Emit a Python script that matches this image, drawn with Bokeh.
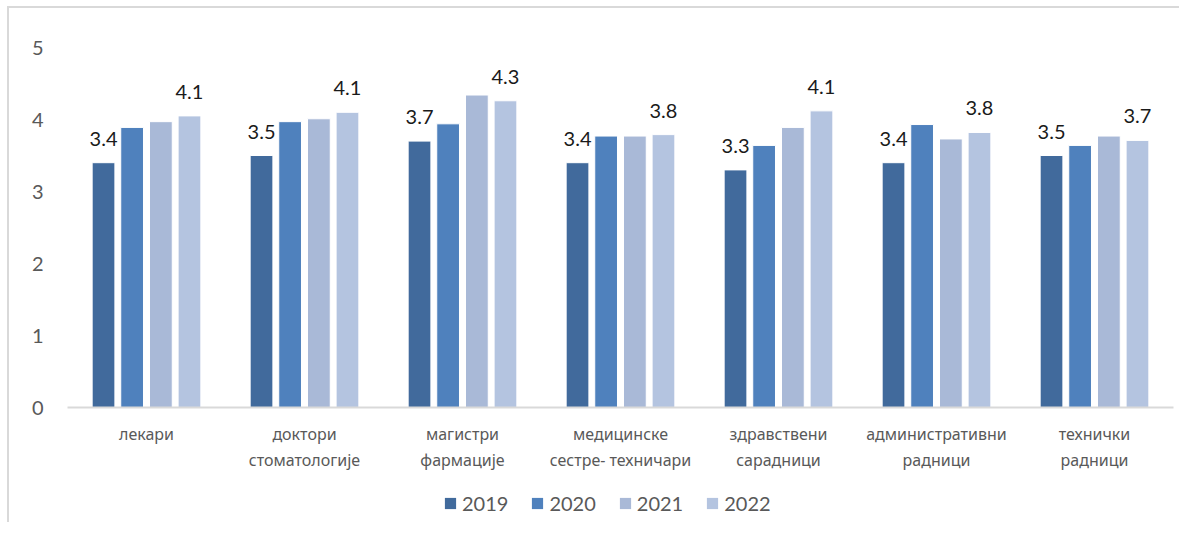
from bokeh.plotting import figure
from bokeh.layouts import column
from bokeh.models import FactorRange, Range1d, ColumnDataSource, Legend, LegendItem, FixedTicker
from bokeh.transform import dodge
from bokeh.core.properties import value
from bokeh.embed import file_html
from bokeh.resources import INLINE

categories = [
    "лекари",
    "доктори\nстоматологије",
    "магистри\nфармације",
    "медицинске\nсестре- техничари",
    "здравствени\nсарадници",
    "административни\nрадници",
    "технички\nрадници",
]
years = ["2019", "2020", "2021", "2022"]
v2019 = [3.40, 3.50, 3.70, 3.40, 3.30, 3.40, 3.50]
v2020 = [3.89, 3.97, 3.94, 3.77, 3.64, 3.93, 3.64]
v2021 = [3.97, 4.01, 4.34, 3.77, 3.89, 3.73, 3.77]
v2022 = [4.05, 4.10, 4.26, 3.79, 4.12, 3.82, 3.71]
labels2019 = ["3.4", "3.5", "3.7", "3.4", "3.3", "3.4", "3.5"]
labels2022 = ["4.1", "4.1", "4.3", "3.8", "4.1", "3.8", "3.7"]
y_ticks = [0, 1, 2, 3, 4, 5]
colors = ["#416A9C", "#4F81BD", "#A9B9D7", "#B4C4E0"]

source = ColumnDataSource(dict(
    cat=categories, v2019=v2019, v2020=v2020, v2021=v2021, v2022=v2022,
    l2019=labels2019, l2022=labels2022,
))

p = figure(
    x_range=FactorRange(*categories), y_range=Range1d(0, 5),
    width=1170, height=474,
    min_border_left=58, min_border_right=6, min_border_top=39, min_border_bottom=75,
    output_backend="svg", toolbar_location=None,
)
p.outline_line_color = None
p.xgrid.grid_line_color = None
p.ygrid.grid_line_color = None
p.background_fill_color = "white"
p.border_fill_color = "white"

offsets = [-0.272, -0.091, 0.091, 0.272]
bw = 0.144
for yr, off, col in zip(years, offsets, colors):
    p.vbar(x=dodge("cat", off, range=p.x_range), top="v" + yr, width=bw,
           source=source, fill_color=col, line_color="white", line_width=1)

for yr, off in (("2019", offsets[0]), ("2022", offsets[3])):
    p.text(x=dodge("cat", off, range=p.x_range), y="v" + yr, text="l" + yr, source=source,
           text_align="center", text_baseline="middle", y_offset=-24,
           text_font=value("Lato"), text_font_size="20px", text_color="#1a1a1a")

# y axis
p.yaxis.ticker = FixedTicker(ticks=y_ticks)
p.yaxis.axis_line_color = None
p.yaxis.major_tick_line_color = None
p.yaxis.minor_tick_line_color = None
p.yaxis.major_tick_out = 0
p.yaxis.major_tick_in = 0
p.yaxis.major_label_standoff = 24
p.yaxis.major_label_text_font = "Lato"
p.yaxis.major_label_text_font_size = "20px"
p.yaxis.major_label_text_color = "#595959"

# x axis
p.xaxis.axis_line_color = "#D9D9D9"
p.xaxis.axis_line_width = 2
p.xaxis.major_tick_line_color = None
p.xaxis.minor_tick_line_color = None
p.xaxis.major_tick_out = 0
p.xaxis.major_tick_in = 0
p.xaxis.major_label_standoff = 15
p.xaxis.major_label_text_font = "Noto Sans"
p.xaxis.major_label_text_font_size = "16px"
p.xaxis.major_label_text_color = "#595959"
p.xaxis.major_label_text_line_height = 1.2

# legend strip below the chart (swatch renderers are zero-size, only their legend glyphs show)
q = figure(
    x_range=Range1d(0, 1), y_range=Range1d(0, 1), width=1170, height=40,
    min_border_left=0, min_border_right=0, min_border_top=0, min_border_bottom=0,
    x_axis_location=None, y_axis_location=None,
    output_backend="svg", toolbar_location=None,
)
q.outline_line_color = None
q.xgrid.grid_line_color = None
q.ygrid.grid_line_color = None
q.border_fill_color = "white"
swatches = []
for yr, col in zip(years, colors):
    swatches.append(q.vbar(x=[0.5], top=[0], bottom=[0], width=0,
                           fill_color=col, line_color=None))

legend = Legend(
    items=[LegendItem(label=yr, renderers=[r]) for yr, r in zip(years, swatches)],
    orientation="horizontal", location=(376, 7),
    glyph_width=14, glyph_height=14, label_standoff=5, spacing=22,
    label_text_font="Lato", label_text_font_size="20px", label_text_color="#595959",
    padding=0, margin=0, border_line_color=None, background_fill_alpha=0,
)
q.add_layout(legend)

layout = column(p, q, styles={"margin-left": "7px", "margin-top": "6px",
                              "border-left": "2px solid #D9D9D9",
                              "border-top": "2px solid #D9D9D9"})

open("out.html", "w").write(file_html(layout, INLINE))
